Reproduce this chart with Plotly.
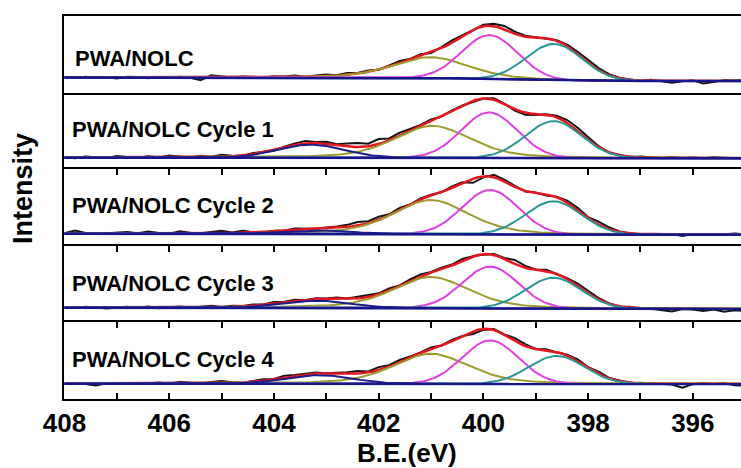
import numpy as np
import plotly.graph_objects as go
from plotly.subplots import make_subplots

# ---------------- data ----------------
panel_labels = ["PWA/NOLC", "PWA/NOLC Cycle 1", "PWA/NOLC Cycle 2",
                "PWA/NOLC Cycle 3", "PWA/NOLC Cycle 4"]
x_ticks = [408, 406, 404, 402, 400, 398, 396]

# fitted components: centre (eV), height, half width (eV), lorentz fraction
navy_center = [403.25, 403.3, 403.2, 403.2, 403.15]
navy_height = [0.0, 13.0, 3.5, 7.0, 8.5]
olive_center = [401.0, 400.97, 401.0, 401.0, 401.0]
olive_height = [21.0, 32.0, 34.0, 31.0, 30.0]
magenta_center = [399.88, 399.89, 399.87, 399.87, 399.87]
magenta_height = [44.0, 45.5, 44.3, 41.7, 43.4]
teal_center = [398.65, 398.66, 398.66, 398.66, 398.6]
teal_height = [36.5, 37.0, 33.3, 31.0, 28.0]
hwhm = {"navy": 0.75, "olive": 0.85, "magenta": 0.63, "teal": 0.63}
lor_frac = {"navy": 0.0, "olive": 0.4, "magenta": 0.0, "teal": 0.0}

# Shirley background levels (high-BE side, low-BE side)
bg_left = [15.0, 11.5, 12.0, 14.7, 15.3]
bg_right = [11.5, 11.0, 11.0, 13.5, 15.0]

# measured spectrum: deviation from the fit envelope, every 0.2 eV from 408 eV down to 395 eV
meas_start, meas_step = 408.0, 0.2
resid = [
    [0.5, -0.5, 0.8, -0.3, 0.2, -1.0, 0.6, 0.3, -0.8, 0.4,
     -0.2, 0.7, -0.5, -3.0, 2.0, 0.5, -0.3, 0.6, 0.2, -0.4,
     0.8, 0.3, 1.2, -0.2, 0.9, 1.5, 0.3, 1.8, 0.5, 1.2,
     -0.5, 1.0, 2.0, 0.5, 1.5, -0.8, 1.0, 2.5, 1.0, 0.0,
     1.5, 2.5, 3.5, 2.0, 1.0, 0.5, -1.0, 0.5, 1.5, 2.5,
     3.0, 2.0, 1.0, 0.5, 0.3, -0.5, 0.8, -0.5, -2.0, -0.5,
     0.5, -2.5, -1.0, 0.6, 0.4, 1.0],
    [0.5, -0.8, 1.0, 0.2, -0.5, 1.5, 0.5, -0.5, 1.2, 0.0,
     1.8, 0.5, -0.3, 1.5, 0.2, 2.0, 0.5, -0.5, 1.0, 0.3,
     -1.0, 0.5, 1.5, 2.5, 1.0, 2.0, 1.0, 3.0, 4.0, 2.5,
     5.0, 2.0, 3.0, 1.5, 0.5, 1.0, -0.5, 1.0, 0.5, -1.0,
     0.0, 1.5, 0.5, -1.5, -2.0, -1.0, 0.5, 1.5, 3.0, 3.5,
     2.5, 1.0, -0.5, 0.5, -0.3, 0.8, 0.3, -0.5, 0.5, -0.3,
     0.4, -0.5, 0.6, 0.2, -0.4, 0.3],
    [0.3, 3.0, 0.5, -0.5, 0.3, 0.8, 1.5, 0.2, 2.0, 0.5,
     -0.3, 2.0, 0.5, 0.0, 1.0, 2.5, 0.5, 2.0, 0.3, -0.5,
     0.5, 0.0, 1.0, 0.5, -0.5, 0.5, 1.0, 2.0, 3.5, 2.0,
     3.0, 1.0, 2.0, 0.0, 1.0, 0.5, -0.5, 1.5, 1.0, -4.0,
     -1.0, 2.5, 2.0, 1.0, -0.5, 0.5, -1.0, 0.5, 2.0, 2.5,
     1.0, 3.0, 2.0, 0.5, 0.0, -0.3, 0.3, -0.5, 0.4, -1.5,
     0.3, -0.4, 0.5, 0.2, 1.0, 0.3],
    [0.0, -0.5, 0.8, 0.3, -1.0, -0.3, 0.6, -0.5, 0.8, -0.8,
     0.3, 0.8, -0.5, 0.5, 1.5, 0.0, 1.0, 0.5, 1.2, 0.3,
     1.5, 0.5, 1.0, -0.5, 0.8, 0.3, 1.5, 0.5, 1.5, 2.0,
     1.0, 2.0, 0.5, 1.5, 2.0, 0.5, 1.5, 1.0, 2.0, 0.5,
     -0.5, 1.0, 1.0, 4.0, 2.0, 0.5, 1.5, 0.0, 1.0, 2.5,
     3.0, 1.5, 0.5, -0.5, 0.8, -1.0, -0.5, -1.5, -3.0, -0.5,
     -1.0, -2.5, -1.0, -3.0, -1.5, -2.5],
    [0.3, -0.3, -0.5, -2.0, 0.2, 0.5, -0.3, 0.5, 0.0, 0.8,
     -0.5, 1.5, 0.3, -0.5, 1.2, 2.0, 0.5, -0.3, 0.8, 1.5,
     0.3, 2.0, 1.0, 0.5, 1.0, 0.0, 0.5, 1.5, 2.5, 1.0,
     3.0, 1.5, 2.5, 1.0, 0.5, 1.5, 0.0, 1.5, 0.5, -2.5,
     -1.0, 1.0, 0.5, 3.0, 2.0, 0.0, 1.0, -0.5, 1.0, 2.0,
     1.0, 2.5, 0.5, 0.8, -0.5, 0.3, 0.0, -0.5, -1.0, -4.0,
     -0.5, 0.4, -0.3, 0.5, -1.5, -2.0],
]

colors = {"data": "#151515", "fit": "#e3171d", "olive": "#9d9b2d",
          "magenta": "#e040e0", "teal": "#2b9696", "navy": "#1d1d8a",
          "bg": "#16168a"}

# ---------------- helpers ----------------
def peak(x, c, h, w, eta):
    u = (x - c) / w
    return h * ((1 - eta) * np.exp(-np.log(2) * u * u) + eta / (1 + u * u))


def model(x, i):
    return {
        "navy": peak(x, navy_center[i], navy_height[i], hwhm["navy"], lor_frac["navy"]),
        "olive": peak(x, olive_center[i], olive_height[i], hwhm["olive"], lor_frac["olive"]),
        "magenta": peak(x, magenta_center[i], magenta_height[i], hwhm["magenta"], lor_frac["magenta"]),
        "teal": peak(x, teal_center[i], teal_height[i], hwhm["teal"], lor_frac["teal"]),
    }


x_fit = np.arange(408.0, 394.99, -0.05)
x_meas = meas_start - meas_step * np.arange(len(resid[0]))

fig = make_subplots(rows=5, cols=1, vertical_spacing=0)

FONT = "Liberation Sans, Arial, sans-serif"
panel_h = 383 / 5
minor_ticks = dict(ticks="inside", ticklen=6, tickwidth=1.5, tickcolor="black",
                   dtick=1, tick0=407)

for i in range(5):
    r = i + 1
    comps = model(x_fit, i)
    total = sum(comps.values())
    # Shirley-type background: cumulative area from the low-BE side
    order = np.argsort(x_fit)
    xs = x_fit[order]
    ts = total[order]
    cum = np.concatenate([[0], np.cumsum((ts[1:] + ts[:-1]) / 2 * np.diff(xs))])
    frac = cum / cum[-1] if cum[-1] > 0 else cum
    bg_sorted = bg_right[i] + (bg_left[i] - bg_right[i]) * frac
    bg = np.empty_like(bg_sorted)
    bg[order] = bg_sorted
    env = bg + total

    env_meas = np.interp(x_meas[::-1], x_fit[::-1], env[::-1])[::-1]
    y_meas = env_meas + np.array(resid[i])

    fig.add_trace(go.Scatter(x=x_meas, y=y_meas, mode="lines",
                             line=dict(color=colors["data"], width=2),
                             showlegend=False, hoverinfo="skip"), row=r, col=1)
    fig.add_trace(go.Scatter(x=x_fit, y=env, mode="lines",
                             line=dict(color=colors["fit"], width=2.5),
                             showlegend=False, hoverinfo="skip"), row=r, col=1)
    for name in ["olive", "magenta", "teal", "navy"]:
        fig.add_trace(go.Scatter(x=x_fit, y=bg + comps[name], mode="lines",
                                 line=dict(color=colors[name], width=2),
                                 showlegend=False, hoverinfo="skip"), row=r, col=1)
    fig.add_trace(go.Scatter(x=x_fit, y=bg, mode="lines",
                             line=dict(color=colors["bg"], width=2.5),
                             showlegend=False, hoverinfo="skip"), row=r, col=1)

    xa = dict(range=[408.01, 395.08], linewidth=2, linecolor="black",
              showgrid=False, zeroline=False, tickmode="array",
              tickvals=x_ticks, showticklabels=False, ticks="")
    if r == 1:
        xa.update(showline=True, mirror=True)
    elif r == 2:
        xa.update(showline=False)
    elif r in (3, 4):
        xa.update(showline=True, mirror=False, side="top", ticks="inside", ticklen=6,
                  tickwidth=1.5, tickcolor="black", minor=minor_ticks)
    else:
        xa.update(showline=True, mirror="ticks", ticks="inside", ticklen=6,
                  tickwidth=1.5, tickcolor="black", showticklabels=True,
                  tickfont=dict(family=FONT, size=26, color="black", weight="bold"),
                  minor=minor_ticks)
    fig.update_xaxes(row=r, col=1, **xa)
    fig.update_yaxes(row=r, col=1, range=[0, panel_h], showline=True, linewidth=2,
                     linecolor="black", mirror=False, showgrid=False, zeroline=False,
                     showticklabels=False, ticks="")

# panel labels
label_x = [72.7, 69.5, 69.5, 69.5, 69.5]
label_y = [58.3, 129.5, 205.0, 283.0, 359.5]
annotations = []
for i in range(5):
    annotations.append(dict(text=panel_labels[i], xref="paper", yref="paper",
                            x=(label_x[i] - 64) / 677, y=(399 - label_y[i]) / 383,
                            xanchor="left", yanchor="middle", showarrow=False,
                            font=dict(family=FONT, size=22, color="black", weight="bold")))
annotations.append(dict(text="Intensity", xref="paper", yref="paper",
                        x=(23 - 64) / 677, y=(399 - 189) / 383, textangle=-90,
                        xanchor="center", yanchor="middle", showarrow=False,
                        font=dict(family=FONT, size=27, color="black", weight="bold")))
annotations.append(dict(text="B.E.(eV)", xref="paper", yref="paper",
                        x=(406.5 - 64) / 677, y=(399 - 453) / 383,
                        xanchor="center", yanchor="middle", showarrow=False,
                        font=dict(family=FONT, size=26, color="black", weight="bold")))

fig.update_layout(width=741, height=468, margin=dict(l=64, r=0, t=16, b=69),
                  plot_bgcolor="white", paper_bgcolor="white",
                  annotations=annotations, showlegend=False)

fig.write_html("out.html")
